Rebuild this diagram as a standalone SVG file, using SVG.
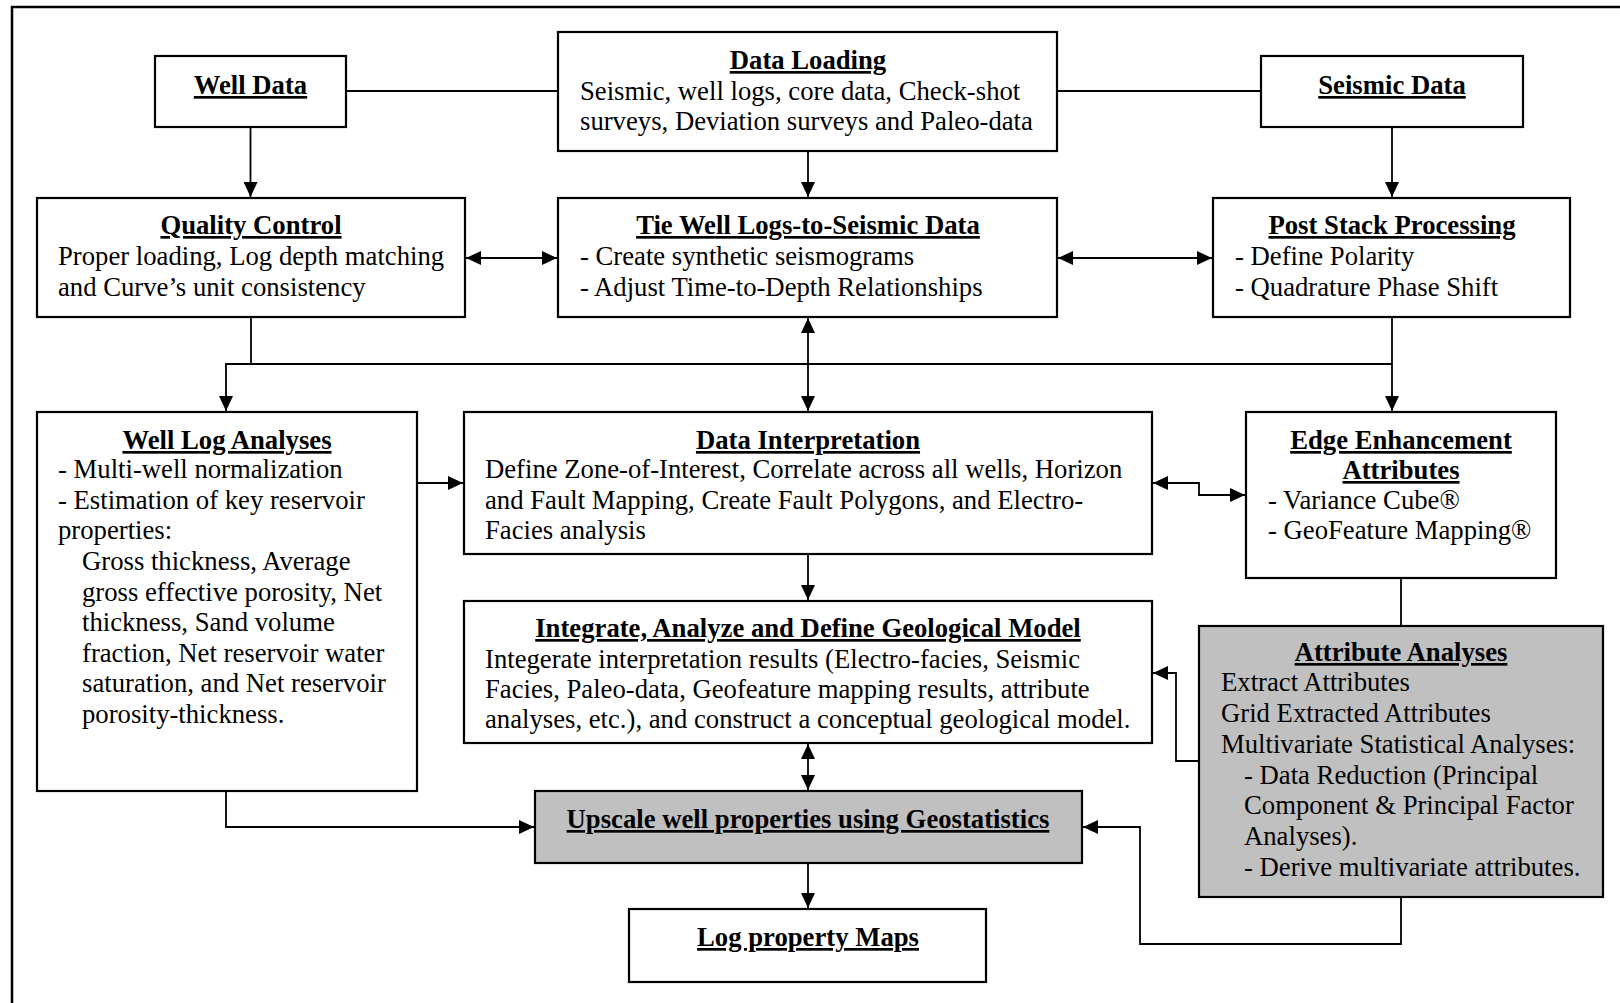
<svg xmlns="http://www.w3.org/2000/svg" width="1620" height="1003" viewBox="0 0 1620 1003">
  <defs>
    <style>
      .box { fill: #ffffff; stroke: #000000; stroke-width: 2.2; }
      .grey { fill: #c0c0c0; stroke: #000000; stroke-width: 2.2; }
      .frame { fill: none; stroke: #000000; stroke-width: 2.5; }
      .link { fill: none; stroke: #000000; stroke-width: 1.8; }
      text { font-family: "Liberation Serif", "Times New Roman", serif; font-size: 26.7px; fill: #000000; }
      .ttl { font-weight: bold; text-anchor: middle; text-decoration: underline; }
    </style>
    <marker id="arrow" markerUnits="userSpaceOnUse" markerWidth="15" markerHeight="14" refX="15" refY="7" orient="auto-start-reverse">
      <path d="M0,0 L15,7 L0,14 Z" fill="#000000"/>
    </marker>
  </defs>

  <rect width="1620" height="1003" fill="#ffffff"/>
  <!-- outer frame, cropped on the right and bottom -->
  <rect class="frame" x="12" y="7" width="1640" height="1030"/>

  <!-- connectors -->
  <g id="connectors">
    <!-- top row links -->
    <line class="link" x1="346" y1="91" x2="558" y2="91"/>
    <line class="link" x1="1057" y1="91" x2="1261" y2="91"/>
    <line class="link" x1="250.5" y1="127" x2="250.5" y2="197" marker-end="url(#arrow)"/>
    <line class="link" x1="808" y1="151" x2="808" y2="197" marker-end="url(#arrow)"/>
    <line class="link" x1="1392" y1="127" x2="1392" y2="197" marker-end="url(#arrow)"/>
    <!-- second row links -->
    <line class="link" x1="466" y1="258" x2="557" y2="258" marker-start="url(#arrow)" marker-end="url(#arrow)"/>
    <line class="link" x1="1058" y1="258" x2="1212" y2="258" marker-start="url(#arrow)" marker-end="url(#arrow)"/>
    <!-- collector bus -->
    <polyline class="link" points="251,317 251,364"/>
    <polyline class="link" points="1392,317 1392,411" marker-end="url(#arrow)"/>
    <polyline class="link" points="1392,364 226,364 226,411" marker-end="url(#arrow)"/>
    <line class="link" x1="808" y1="318" x2="808" y2="411" marker-start="url(#arrow)" marker-end="url(#arrow)"/>
    <!-- middle links -->
    <line class="link" x1="417" y1="483" x2="463" y2="483" marker-end="url(#arrow)"/>
    <polyline class="link" points="1153,483 1199,483 1199,495 1245,495" marker-start="url(#arrow)" marker-end="url(#arrow)"/>
    <line class="link" x1="808" y1="554" x2="808" y2="600" marker-end="url(#arrow)"/>
    <line class="link" x1="1401" y1="578" x2="1401" y2="626"/>
    <polyline class="link" points="1199,761 1176,761 1176,673 1153,673" marker-end="url(#arrow)"/>
    <!-- lower links -->
    <line class="link" x1="808" y1="744" x2="808" y2="790" marker-start="url(#arrow)" marker-end="url(#arrow)"/>
    <polyline class="link" points="226,791 226,827 534,827" marker-end="url(#arrow)"/>
    <polyline class="link" points="1401,897 1401,944 1140,944 1140,827 1083,827" marker-end="url(#arrow)"/>
    <line class="link" x1="808" y1="863" x2="808" y2="908" marker-end="url(#arrow)"/>
  </g>

  <g id="well-data">
    <rect class="box" x="155" y="56" width="191" height="71"/>
    <text class="ttl" x="250.5" y="94">Well Data</text>
  </g>

  <g id="data-loading">
    <rect class="box" x="558" y="32" width="499" height="119"/>
    <text class="ttl" x="808" y="69">Data Loading</text>
    <text x="580" y="100">Seismic, well logs, core data, Check-shot</text>
    <text x="580" y="130">surveys, Deviation surveys and Paleo-data</text>
  </g>

  <g id="seismic-data">
    <rect class="box" x="1261" y="56" width="262" height="71"/>
    <text class="ttl" x="1392" y="94">Seismic Data</text>
  </g>

  <g id="quality-control">
    <rect class="box" x="37" y="198" width="428" height="119"/>
    <text class="ttl" x="251" y="234">Quality Control</text>
    <text x="58" y="265">Proper loading, Log depth matching</text>
    <text x="58" y="296">and Curve’s unit consistency</text>
  </g>

  <g id="tie-well-logs">
    <rect class="box" x="558" y="198" width="499" height="119"/>
    <text class="ttl" x="808" y="234">Tie Well Logs-to-Seismic Data</text>
    <text x="580" y="265">- Create synthetic seismograms</text>
    <text x="580" y="296">- Adjust Time-to-Depth Relationships</text>
  </g>

  <g id="post-stack">
    <rect class="box" x="1213" y="198" width="357" height="119"/>
    <text class="ttl" x="1392" y="234">Post Stack Processing</text>
    <text x="1235" y="265">- Define Polarity</text>
    <text x="1235" y="296">- Quadrature Phase Shift</text>
  </g>

  <g id="well-log-analyses">
    <rect class="box" x="37" y="412" width="380" height="379"/>
    <text class="ttl" x="227" y="449">Well Log Analyses</text>
    <text x="58" y="478">- Multi-well normalization</text>
    <text x="58" y="509">- Estimation of key reservoir</text>
    <text x="58" y="539">properties:</text>
    <text x="82" y="570">Gross thickness, Average</text>
    <text x="82" y="601">gross effective porosity, Net</text>
    <text x="82" y="631">thickness, Sand volume</text>
    <text x="82" y="662">fraction, Net reservoir water</text>
    <text x="82" y="692">saturation, and Net reservoir</text>
    <text x="82" y="723">porosity-thickness.</text>
  </g>

  <g id="data-interpretation">
    <rect class="box" x="464" y="412" width="688" height="142"/>
    <text class="ttl" x="808" y="449">Data Interpretation</text>
    <text x="485" y="478">Define Zone-of-Interest, Correlate across all wells, Horizon</text>
    <text x="485" y="509">and Fault Mapping, Create Fault Polygons, and Electro-</text>
    <text x="485" y="539">Facies analysis</text>
  </g>

  <g id="edge-enhancement">
    <rect class="box" x="1246" y="412" width="310" height="166"/>
    <text class="ttl" x="1401" y="449">Edge Enhancement</text>
    <text class="ttl" x="1401" y="479">Attributes</text>
    <text x="1268" y="509">- Variance Cube®</text>
    <text x="1268" y="539">- GeoFeature Mapping®</text>
  </g>

  <g id="geological-model">
    <rect class="box" x="464" y="601" width="688" height="142"/>
    <text class="ttl" x="808" y="637">Integrate, Analyze and Define Geological Model</text>
    <text x="485" y="668">Integerate interpretation results (Electro-facies, Seismic</text>
    <text x="485" y="698">Facies, Paleo-data, Geofeature mapping results, attribute</text>
    <text x="485" y="728">analyses, etc.), and construct a conceptual geological model.</text>
  </g>

  <g id="attribute-analyses">
    <rect class="grey" x="1199" y="626" width="404" height="271"/>
    <text class="ttl" x="1401" y="661">Attribute Analyses</text>
    <text x="1221" y="691">Extract Attributes</text>
    <text x="1221" y="722">Grid Extracted Attributes</text>
    <text x="1221" y="753">Multivariate Statistical Analyses:</text>
    <text x="1244" y="784">- Data Reduction (Principal</text>
    <text x="1244" y="814">Component &amp; Principal Factor</text>
    <text x="1244" y="845">Analyses).</text>
    <text x="1244" y="876">- Derive multivariate attributes.</text>
  </g>

  <g id="upscale">
    <rect class="grey" x="535" y="791" width="547" height="72"/>
    <text class="ttl" x="808" y="828">Upscale well properties using Geostatistics</text>
  </g>

  <g id="log-property-maps">
    <rect class="box" x="629" y="909" width="357" height="73"/>
    <text class="ttl" x="808" y="946">Log property Maps</text>
  </g>
</svg>
